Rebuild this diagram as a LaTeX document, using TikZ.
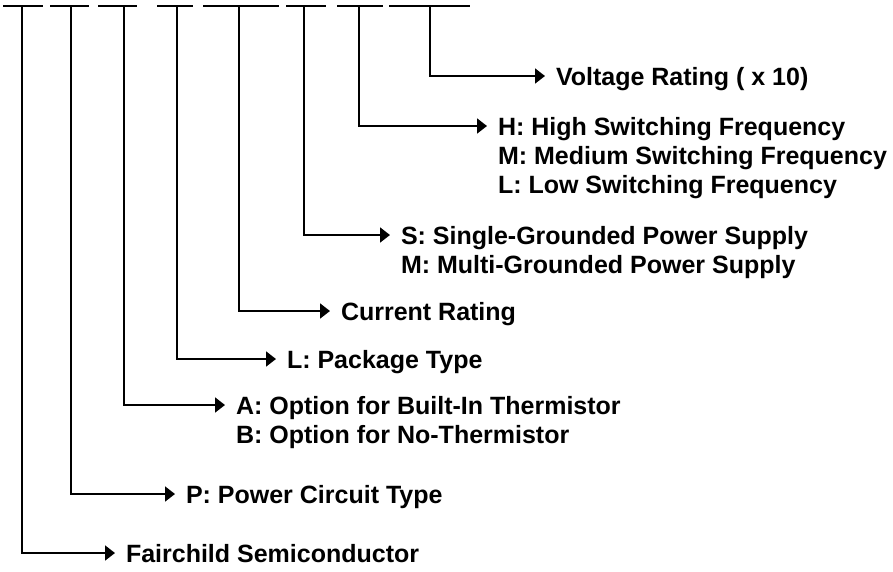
\documentclass[tikz,border=0pt]{standalone}
\usepackage{fontspec}
\setmainfont{Liberation Sans}
\usetikzlibrary{arrows.meta,positioning}

\begin{document}
\begin{tikzpicture}[
    x=1pt, y=-1pt,
    font=\fontsize{25pt}{29pt}\selectfont\bfseries,
    lbl/.style={inner sep=0pt, outer sep=0pt, text height=18pt, text depth=0pt, anchor=west},
    field/.style={line width=1.8pt},
    arr/.style={-{Triangle[length=10pt, width=15pt]}, line width=1.8pt}
  ]
    \useasboundingbox (0,0) rectangle (893,571);

    % part number fields
    \foreach \l/\r/\c/\n in {3/43/22/1, 50/89/71/2, 98/137/124/3, 157/193/177/4,
                             203/279/239/5, 286/326/304/6, 337/383/359/7, 389/470/430/8}{
      \draw[field] (\l,6) -- (\r,6);
      \coordinate (d\n) at (\c,6);
    }

    \coordinate (t1) at (115,553);
    \coordinate (t2) at (175,494);
    \coordinate (t3) at (225,405);
    \coordinate (t4) at (276,359);
    \coordinate (t5) at (330,311);
    \coordinate (t6) at (390,235);
    \coordinate (t7) at (487,126);
    \coordinate (t8) at (545,76);

    \node[lbl, right=11pt of t1] (maker) {Fairchild Semiconductor};
    \node[lbl, right=11pt of t2] (circuit) {P: Power Circuit Type};
    \node[lbl, right=11pt of t3] (thermA) {A: Option for Built-In Thermistor};
    \node[lbl, below right=11pt and 0pt of thermA.south west] (thermB) {B: Option for No-Thermistor};
    \node[lbl, right=11pt of t4] (pkg) {L: Package Type};
    \node[lbl, right=11pt of t5] (current) {Current Rating};
    \node[lbl, right=11pt of t6] (supS) {S: Single-Grounded Power Supply};
    \node[lbl, below right=11pt and 0pt of supS.south west] (supM) {M: Multi-Grounded Power Supply};
    \node[lbl, right=11pt of t7] (swH) {H: High Switching Frequency};
    \node[lbl, below right=11pt and 0pt of swH.south west] (swM) {M: Medium Switching Frequency};
    \node[lbl, below right=11pt and 0pt of swM.south west] (swL) {L: Low Switching Frequency};
    \node[lbl, right=11pt of t8] (volt) {Voltage Rating ( x 10)};

    \foreach \n in {1,...,8}
      \draw[arr] (d\n) |- (t\n);
  \end{tikzpicture}
\end{document}
